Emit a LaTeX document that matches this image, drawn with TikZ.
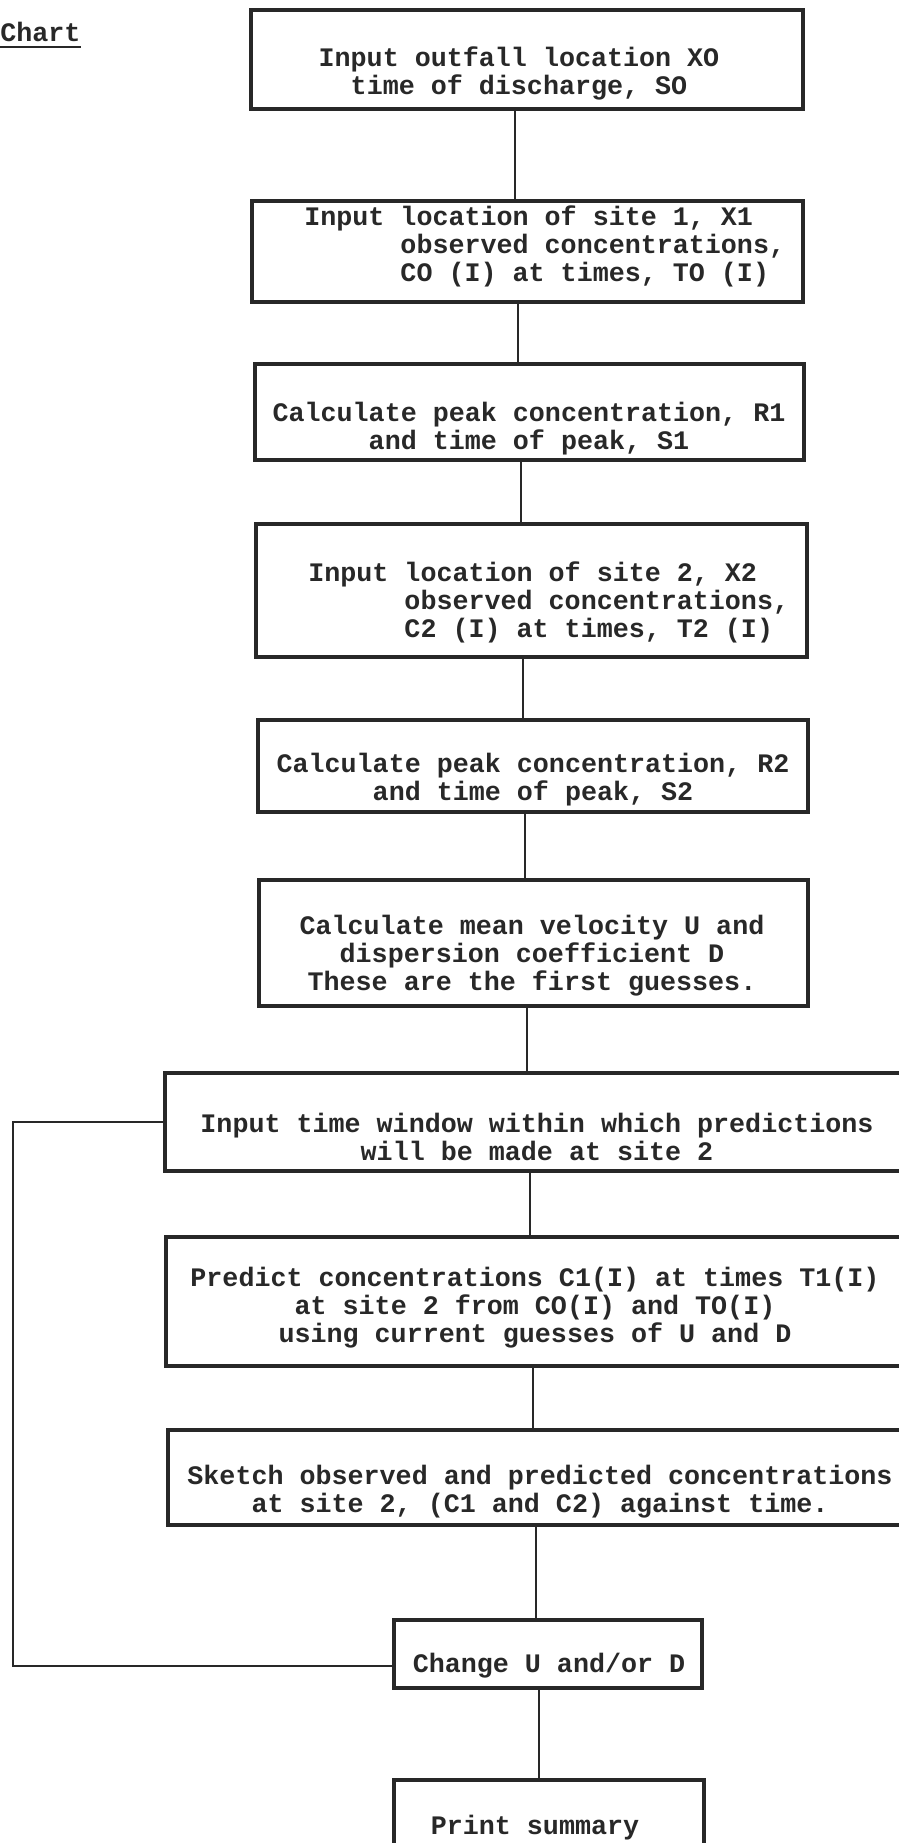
\documentclass[tikz,border=0pt]{standalone}
\usepackage{fontspec}
\usepackage{tikz}
\newfontfamily\typer{Liberation Mono}
\definecolor{ink}{RGB}{40,40,40}
\usetikzlibrary{fit, calc}

\begin{document}
\begin{tikzpicture}[
    x=0.02cm, y=-0.02cm,
    stepbox/.style={draw=ink, line width=1.9pt, inner sep=0pt},
    txt/.style={font=\typer\bfseries\fontsize{15.2}{15.9}\selectfont, text=ink, inner sep=0pt, align=center},
    link/.style={draw=ink, line width=1.2pt}
]
    \useasboundingbox (0,0) rectangle (899,1843);
    \clip (0,0) rectangle (899,1843);

    \node[txt, anchor=west] (title) at (0,32) {Chart};
    \draw[link] ([yshift=-3pt]title.south west) -- ([yshift=-3pt]title.south east);

    % boxes
    \node[stepbox, fit={(251,10) (803,109)}] (s1) {};
    \node[stepbox, fit={(252,201) (803,302)}] (s2) {};
    \node[stepbox, fit={(255,364) (804,460)}] (s3) {};
    \node[stepbox, fit={(256,524) (807,657)}] (s4) {};
    \node[stepbox, fit={(258,720) (808,812)}] (s5) {};
    \node[stepbox, fit={(259,880) (808,1006)}] (s6) {};
    \node[stepbox, fit={(165,1073) (940,1171)}] (s7) {};
    \node[stepbox, fit={(166,1237) (940,1366)}] (s8) {};
    \node[stepbox, fit={(168,1430) (940,1525)}] (s9) {};
    \node[stepbox, fit={(394,1620) (702,1688)}] (s10) {};
    \node[stepbox, fit={(394,1780) (704,1880)}] (s11) {};

    % texts
    \node[txt] (l1) at (519,73) {Input outfall location XO\\time of discharge, SO};
    \node[txt, align=left, anchor=west] (l2) at (304,246) {Input location of site 1, X1\\\hspace*{3.6em}observed concentrations,\\\hspace*{3.6em}CO (I) at times, TO (I)};
    \node[txt] (l3) at (529,429) {Calculate peak concentration, R1\\and time of peak, S1};
    \node[txt, align=left, anchor=west] (l4) at (308,602) {Input location of site 2, X2\\\hspace*{3.6em}observed concentrations,\\\hspace*{3.6em}C2 (I) at times, T2 (I)};
    \node[txt] (l5) at (533,780) {Calculate peak concentration, R2\\and time of peak, S2};
    \node[txt] (l6) at (532,956) {Calculate mean velocity U and\\dispersion coefficient D\\These are the first guesses.};
    \node[txt] (l7) at (537,1137) {Input time window within which predictions\\will be made at site 2};
    \node[txt] (l8) at (535,1308) {Predict concentrations C1(I) at times T1(I)\\at site 2 from CO(I) and TO(I)\\using current guesses of U and D};
    \node[txt] (l9) at (540,1492) {Sketch observed and predicted concentrations\\at site 2, (C1 and C2) against time.};
    \node[txt] (l10) at (549,1666) {Change U and/or D};
    \node[txt] (l11) at (535,1828) {Print summary};

    % connectors
    \foreach \a/\b/\x in {s1/s2/515, s2/s3/518, s3/s4/521, s4/s5/523, s5/s6/525,
                          s6/s7/527, s7/s8/530, s8/s9/533, s9/s10/536, s10/s11/539}
        \draw[link] (\a.south -| \x,0) -- (\b.north -| \x,0);

    % loop back
    \coordinate (back) at (13,0);
    \draw[link] (s7.west) -- (s7.west -| back) |- (s10.west |- l10);
\end{tikzpicture}
\end{document}
